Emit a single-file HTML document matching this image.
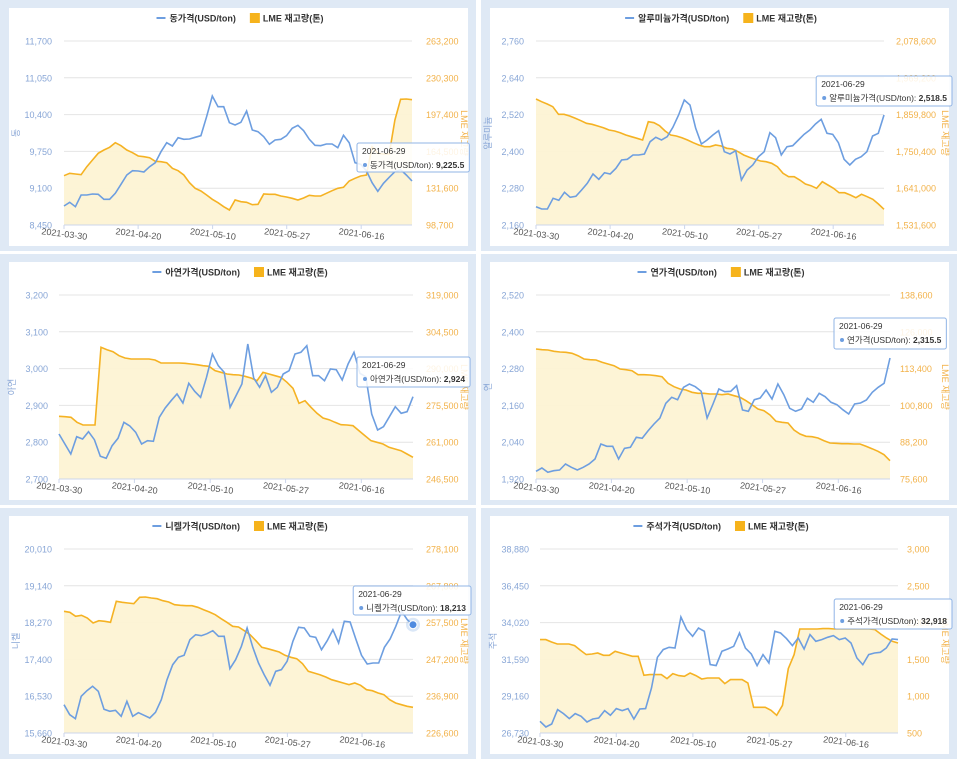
<!DOCTYPE html>
<html><head><meta charset="utf-8">
<style>
html,body{margin:0;padding:0;background:#fff;width:960px;height:760px;overflow:hidden}
svg{position:absolute;left:0;top:0}
text{font-family:"Liberation Sans","Noto Sans CJK KR",sans-serif}
</style></head>
<body>
<svg id="s" width="960" height="760" xmlns="http://www.w3.org/2000/svg"></svg>
<script>
var P=[
{ox:0,oy:0,x0:64,x1:412,lx:52,rx:426,yo:0,name:"동가격(USD/ton)",at:"동",L:["11,700","11,050","10,400","9,750","9,100","8,450"],R:["263,200","230,300","197,400","164,500","131,600","98,700"],
tip:[357,143,111,29,"동가격(USD/ton)","9,225.5"],
b:[618,607,620,585,585,582,583,598,598,580,553,525,512,513,516,500,488,455,428,438,413,418,417,412,407,350,288,320,320,368,375,367,333,390,395,410,433,420,418,407,385,376,392,418,436,437,432,432,443,406,428,488,493,512,548,574,550,532,515,509,525,543],
o:[527,520,522,524,500,480,460,450,442,428,437,450,458,468,470,473,484,485,488,505,512,525,548,565,573,585,598,608,620,630,600,605,607,614,613,582,583,583,588,591,595,600,594,586,588,588,580,572,565,562,543,535,528,525,440,460,462,462,360,298,297,299]},
{ox:481,oy:0,x0:55,x1:403,lx:43,rx:415,yo:0,name:"알루미늄가격(USD/ton)",at:"알루미늄",L:["2,760","2,640","2,520","2,400","2,280","2,160"],R:["2,078,600","1,969,200","1,859,800","1,750,400","1,641,000","1,531,600"],
tip:[336,76,133,30,"알루미늄가격(USD/ton)","2,518.5"],
b:[620,627,627,595,601,577,592,589,570,550,522,538,518,522,505,480,478,465,465,462,425,412,420,410,382,345,300,315,385,432,420,405,392,455,462,452,540,510,495,470,455,398,413,465,440,437,420,403,390,372,358,400,403,428,478,495,478,470,455,408,400,345],
o:[297,305,312,320,343,343,348,355,362,370,373,378,383,390,393,398,405,410,415,420,365,368,377,393,405,408,413,420,428,435,440,440,435,438,445,447,455,465,472,478,483,485,490,500,520,530,530,540,552,557,565,545,555,565,578,578,585,593,583,590,598,612,628]},
{ox:0,oy:254,x0:59,x1:413,lx:48,rx:426,yo:0,name:"아연가격(USD/ton)",at:"아연",L:["3,200","3,100","3,000","2,900","2,800","2,700"],R:["319,000","304,500","290,000","275,500","261,000","246,500"],
tip:[357,103,111,30,"아연가격(USD/ton)","2,924"],
b:[540,570,600,548,555,533,557,607,613,575,553,505,516,535,570,560,562,490,462,440,420,447,388,412,430,370,300,335,355,460,425,390,270,372,400,365,415,400,360,350,300,295,275,365,365,380,345,347,378,330,295,358,368,480,528,518,488,458,478,473,428],
o:[487,488,490,505,513,513,513,280,287,293,305,312,315,315,315,315,318,327,327,327,327,328,330,332,335,337,350,355,360,362,363,367,372,380,355,360,365,370,385,403,448,440,460,478,492,497,505,512,513,515,530,545,560,565,570,580,585,590,600,610]},
{ox:481,oy:254,x0:55,x1:409,lx:43,rx:419,yo:0,name:"연가격(USD/ton)",at:"연",L:["2,520","2,400","2,280","2,160","2,040","1,920"],R:["138,600","126,000","113,400","100,800","88,200","75,600"],
tip:[353,64,112,31,"연가격(USD/ton)","2,315.5"],
b:[652,642,655,650,648,630,640,648,640,630,615,570,577,577,615,583,580,550,553,530,510,492,448,430,437,400,390,398,412,492,450,405,413,412,395,468,472,437,432,408,435,390,422,463,472,465,433,445,418,428,445,452,467,480,450,447,438,415,400,388,312],
o:[285,287,288,292,294,295,298,305,315,317,318,325,330,335,345,347,350,362,362,363,365,368,388,398,405,408,415,418,418,420,420,422,420,425,430,440,452,465,470,483,502,505,507,528,540,547,548,552,560,567,568,569,569,570,570,577,584,592,602,620]},
{ox:0,oy:508,x0:64,x1:413,lx:52,rx:426,yo:0,name:"니켈가격(USD/ton)",at:"니켈",L:["20,010","19,140","18,270","17,400","16,530","15,660"],R:["278,100","267,800","257,500","247,200","236,900","226,600"],
tip:[355,78,116,29,"니켈가격(USD/ton)","18,213"],dot:1,
b:[590,620,632,565,548,535,550,604,610,607,625,580,625,614,622,630,613,575,515,470,448,442,395,380,383,377,368,385,385,482,455,415,360,418,465,500,532,490,485,460,400,358,360,385,388,425,398,365,405,340,342,393,442,468,465,465,418,393,355,310,335,350],
o:[310,313,325,322,330,345,338,340,343,280,283,285,287,268,267,270,272,278,282,290,292,293,293,298,305,312,320,332,343,355,357,368,380,398,418,422,427,432,442,448,452,467,490,495,500,507,515,520,525,530,525,532,545,548,555,560,575,585,590,595,598]},
{ox:481,oy:508,x0:59,x1:417,lx:48,rx:426,yo:-6.7,name:"주석가격(USD/ton)",at:"주석",L:["38,880","36,450","34,020","31,590","29,160","26,730"],R:["3,000","2,500","2,000","1,500","1,000","500"],
tip:[357,91,116,30,"주석가격(USD/ton)","32,918"],
b:[660,677,668,625,637,652,637,645,662,653,650,628,642,622,628,622,653,623,622,560,468,445,438,440,347,385,405,380,390,490,493,450,443,435,395,440,458,493,460,485,390,395,412,433,410,443,400,420,415,408,403,415,410,425,470,490,460,455,453,440,413,415],
o:[415,415,422,428,428,428,433,447,460,458,455,462,462,450,455,460,465,465,522,520,520,520,532,517,523,525,515,523,533,530,530,530,547,535,535,535,545,618,618,618,627,642,612,502,460,383,383,383,383,382,382,383,383,383,383,383,383,383,385,398,410,420,425]}
];
var T=41,B=225,h="";
var D=["2021-03-30","2021-04-20","2021-05-10","2021-05-27","2021-06-16"],F=[0,.213,.427,.64,.854];
P.forEach(function(p,pi){
 var g='<g transform="translate('+p.ox+','+p.oy+')">';
 g+='<rect x="0" y="0" width="476" height="251" fill="#dfe9f5"/><rect x="9" y="8" width="459" height="238" fill="#fff"/>';
 g+='<g id="lg'+pi+'"><line x1="0" y1="18" x2="9" y2="18" stroke="#6d9ee0" stroke-width="2"/>';
 g+='<text id="ln'+pi+'" x="13" y="21.5" font-size="9" font-weight="bold" fill="#333">'+p.name+'</text>';
 g+='<rect id="lr'+pi+'" x="0" y="13" width="10" height="10" fill="#f6b31c"/>';
 g+='<text id="lt'+pi+'" x="0" y="21.5" font-size="9" font-weight="bold" fill="#333">LME 재고량(톤)</text></g>';
 for(var i=0;i<6;i++){var y=T+i*(B-T)/5;
  g+='<line x1="'+p.x0+'" y1="'+y+'" x2="'+p.x1+'" y2="'+y+'" stroke="#e4e4e4" stroke-width="1"/>';
  g+='<text x="'+p.lx+'" y="'+(y+3.5)+'" font-size="9" fill="#88a6d6" text-anchor="end">'+p.L[i]+'</text>';
  g+='<text x="'+p.rx+'" y="'+(y+3.5)+'" font-size="9" fill="#f2b24a">'+p.R[i]+'</text>';}
 g+='<text transform="translate('+(p.lx-33)+',133) rotate(-90)" font-size="9" fill="#88a6d6" text-anchor="middle">'+p.at+'</text>';
 g+='<text transform="translate(461,133) rotate(90)" font-size="9" fill="#f2b24a" text-anchor="middle">LME 재고량</text>';
 function pts(a){var n=a.length,s=[];for(var k=0;k<n;k++){s.push([(p.x0+(p.x1-p.x0)*k/(n-1)).toFixed(1),(a[k]/3+p.yo).toFixed(1)]);}return s;}
 var o=pts(p.o),b=pts(p.b);
 g+='<polygon points="'+p.x0+','+B+' '+o.join(' ')+' '+p.x1+','+B+'" fill="#fdf3d4" opacity="0.95"/>';
 g+='<polyline points="'+o.join(' ')+'" fill="none" stroke="#f5b223" stroke-width="1.6"/>';
 g+='<polyline points="'+b.join(' ')+'" fill="none" stroke="#6d9ee0" stroke-width="1.6"/>';
 g+='<line x1="'+p.x0+'" y1="'+B+'" x2="'+p.x1+'" y2="'+B+'" stroke="#ccd6eb"/>';
 for(i=0;i<5;i++){var x=p.x0+(p.x1-p.x0)*F[i];
  g+='<line x1="'+x+'" y1="'+B+'" x2="'+x+'" y2="'+(B+4)+'" stroke="#ccd6eb"/>';
  g+='<text transform="translate('+x+','+(B+12)+') rotate(7)" font-size="9" fill="#555" text-anchor="middle">'+D[i]+'</text>';}
 var lb=b[b.length-1];
 if(p.dot)g+='<circle cx="'+lb[0]+'" cy="'+lb[1]+'" r="7" fill="#6d9ee0" opacity="0.25"/><circle cx="'+lb[0]+'" cy="'+lb[1]+'" r="4" fill="#4f8be0" stroke="#fff"/>';
 var t=p.tip;
 g+='<rect id="tr'+pi+'" x="'+t[0]+'" y="'+t[1]+'" width="'+t[2]+'" height="'+t[3]+'" rx="2" fill="rgba(255,255,255,0.85)" stroke="#90b4e6"/>';
 g+='<text x="'+(t[0]+5)+'" y="'+(t[1]+11)+'" font-size="8.5" fill="#333">2021-06-29</text>';
 g+='<circle cx="'+(t[0]+8)+'" cy="'+(t[1]+22)+'" r="2" fill="#6d9ee0"/>';
 g+='<text id="tt'+pi+'" x="'+(t[0]+13)+'" y="'+(t[1]+25)+'" font-size="8.5" fill="#333">'+t[4]+': <tspan font-weight="bold">'+t[5]+'</tspan></text>';
 g+='</g>';h+=g;
});
document.getElementById('s').innerHTML=h;
P.forEach(function(p,pi){
 var w1=document.getElementById('ln'+pi).getComputedTextLength();
 var w2=document.getElementById('lt'+pi).getComputedTextLength();
 var rx=13+w1+14;
 document.getElementById('lr'+pi).setAttribute('x',rx);
 document.getElementById('lt'+pi).setAttribute('x',rx+13);
 var tot=rx+13+w2;
 document.getElementById('lg'+pi).setAttribute('transform','translate('+(240-tot/2)+',0)');
 var tw=document.getElementById('tt'+pi).getComputedTextLength();
 var t=p.tip, nw=tw+18, nx=t[0]+t[2]-nw;
 if(nx+nw>469){nx=469-nw;}
 var r=document.getElementById('tr'+pi);
 var dx=nx-t[0];
 r.setAttribute('width',nw);
 r.parentNode.querySelectorAll('text,circle').forEach(function(){});
 r.setAttribute('x',t[0]);
 if(t[0]+nw>471){var s=t[0]+nw-471;r.setAttribute('x',t[0]-s);
   var sib=r.nextSibling;while(sib){if(sib.tagName==='text')sib.setAttribute('x',parseFloat(sib.getAttribute('x'))-s);if(sib.tagName==='circle')sib.setAttribute('cx',parseFloat(sib.getAttribute('cx'))-s);sib=sib.nextSibling;}}
});
</script>
</body></html>
